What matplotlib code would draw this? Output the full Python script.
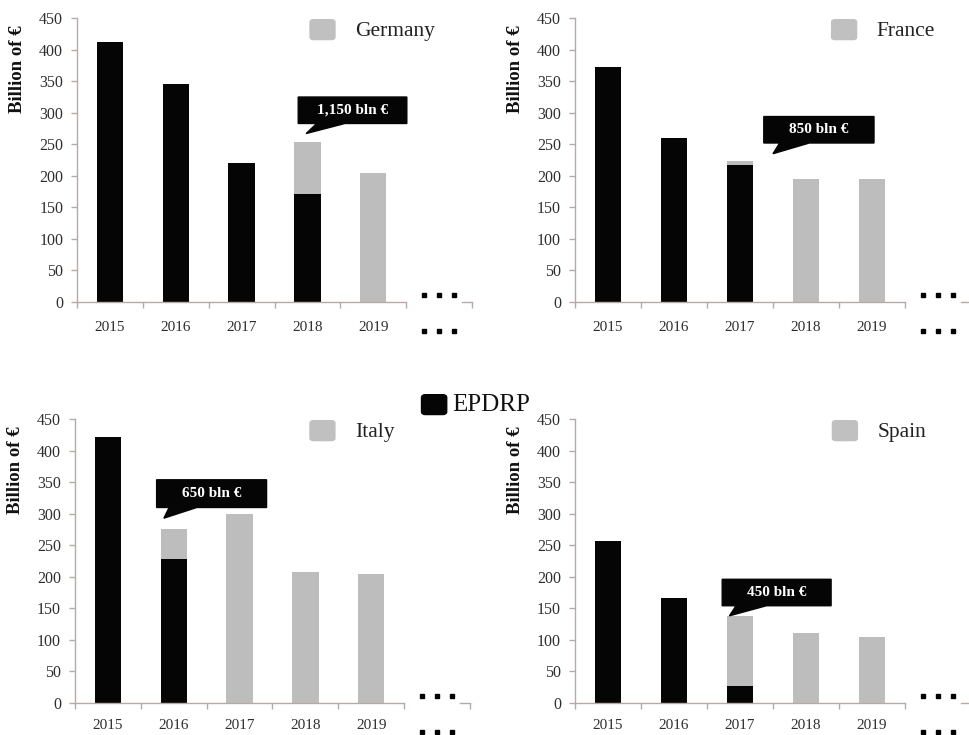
import matplotlib
matplotlib.use("Agg")
import matplotlib.pyplot as plt
from matplotlib.patches import Polygon, FancyBboxPatch
import matplotlib.transforms as mtransforms

plt.rcParams['font.family'] = ['Liberation Serif', 'DejaVu Serif', 'DejaVu Sans']

# ---- data -------------------------------------------------------------
years = ['2015', '2016', '2017', '2018', '2019']
countries = ['Germany', 'France', 'Italy', 'Spain']

epdrp = {
    'Germany': [413, 345, 221, 171, 0],
    'France':  [373, 260, 217, 0, 0],
    'Italy':   [422, 228, 0, 0, 0],
    'Spain':   [257, 166, 27, 0, 0],
}
national = {
    'Germany': [0, 0, 0, 83, 205],
    'France':  [0, 0, 6, 195, 195],
    'Italy':   [0, 48, 299, 208, 205],
    'Spain':   [0, 0, 111, 110, 104],
}
y_ticks = list(range(0, 451, 50))
y_label = 'Billion of €'
series_label = 'EPDRP'

# ---- style ------------------------------------------------------------
BLACK = '#050505'
GREY = '#bdbdbd'
SPINE = '#b8a9a9'
TXT = '#2e2e2e'

axes_rect = {
    'Germany': [0.0795, 0.5895, 0.4076, 0.3856],
    'France':  [0.5934, 0.5895, 0.4087, 0.3856],
    'Italy':   [0.0774, 0.0439, 0.4076, 0.3856],
    'Spain':   [0.5934, 0.0439, 0.4087, 0.3856],
}
# year-label distance from the axis (points) per panel
year_pad = {'Germany': 14, 'France': 14, 'Italy': 12, 'Spain': 12}
# legend square x (axes fraction) per panel
legend_x = {'Germany': 0.590, 'France': 0.648, 'Italy': 0.595, 'Spain': 0.650}
# callout geometry: box (x0, x1, y0, y1), tail base (xa, xb), tip (xt, yt)
callout = {
    'Germany': ((2.86, 4.51, 283, 325), (3.14, 3.57), (2.98, 267)),
    'France':  ((2.36, 4.03, 252, 294), (2.60, 3.05), (2.50, 235)),
    'Italy':   ((0.74, 2.41, 310, 354), (0.93, 1.35), (0.85, 293)),
    'Spain':   ((1.73, 3.38, 154, 196), (1.94, 2.40), (1.84, 138)),
}

fig = plt.figure(figsize=(9.69, 7.35), dpi=100)
fig.patch.set_facecolor('white')

n = len(years)
xs = list(range(n))
bw = 0.4

for c in countries:
    ax = fig.add_axes(axes_rect[c])
    ax.bar(xs, epdrp[c], width=bw, color=BLACK, zorder=2)
    ax.bar(xs, national[c], width=bw, bottom=epdrp[c], color=GREY, zorder=2)

    ax.set_xlim(-0.5, n + 0.5)
    ax.set_ylim(0, 450)

    for s in ('top', 'right'):
        ax.spines[s].set_visible(False)
    for s in ('left', 'bottom'):
        ax.spines[s].set_color(SPINE)
        ax.spines[s].set_linewidth(1.0)
    ax.spines['bottom'].set_bounds(-0.5, n - 0.5)
    # short axis stub after the break
    ax.plot([n + 0.35, n + 0.5], [0, 0], color=SPINE, lw=1.0, clip_on=False)

    ax.set_yticks(y_ticks)
    ax.tick_params(axis='y', length=4, width=1, color=SPINE, labelcolor=TXT,
                   labelsize=11.5, pad=6)

    ax.set_xticks([i - 0.5 for i in range(n + 2)])
    ax.set_xticklabels([])
    ax.tick_params(axis='x', which='major', length=4, width=1, color=SPINE)
    ax.set_xticks(xs, minor=True)
    ax.set_xticklabels(years, minor=True)
    ax.tick_params(axis='x', which='minor', length=0, labelcolor=TXT,
                   labelsize=11, pad=year_pad[c])

    # continuation dots
    trans = mtransforms.blended_transform_factory(ax.transData, ax.transAxes)
    dx = [n - 0.23, n, n + 0.23]
    ax.plot(dx, [0.022] * 3, 's', color='black', ms=3.3, transform=trans, clip_on=False)
    ax.plot(dx, [-0.104] * 3, 's', color='black', ms=3.3, transform=trans, clip_on=False)

    ax.text(-0.15, 0.82, y_label, rotation=90, ha='center', va='center',
            fontsize=13.5, fontweight='bold', color='#111111', transform=ax.transAxes)

    # country legend
    lx = legend_x[c]
    ax.add_patch(FancyBboxPatch((lx, 0.925), 0.063, 0.07,
                                boxstyle='round,pad=0,rounding_size=0.008',
                                transform=ax.transAxes, color='#c0c0c0',
                                clip_on=False, zorder=3))
    ax.text(lx + 0.114, 0.955, c, fontsize=15.5, color='#222222',
            ha='left', va='center', transform=ax.transAxes)

    # callout with the EPDRP total
    (x0, x1, y0, y1), (xa, xb), (xt, yt) = callout[c]
    poly = Polygon([(x0, y1), (x1, y1), (x1, y0), (xb, y0), (xt, yt),
                    (xa, y0), (x0, y0)], closed=True, color=BLACK, zorder=4)
    ax.add_patch(poly)
    total = sum(epdrp[c])
    ax.text((x0 + x1) / 2, (y0 + y1) / 2, f'{total:,} bln €', color='white',
            fontsize=11, fontweight='bold', ha='center', va='center', zorder=5)

# shared EPDRP legend
fig.patches.append(FancyBboxPatch((0.435, 0.436), 0.026, 0.027,
                                  boxstyle='round,pad=0,rounding_size=0.004',
                                  transform=fig.transFigure, color=BLACK))
fig.text(0.4665, 0.449, series_label, fontsize=18, color='#111111',
         ha='left', va='center')

fig.savefig('out.png', dpi=100, facecolor='white')
